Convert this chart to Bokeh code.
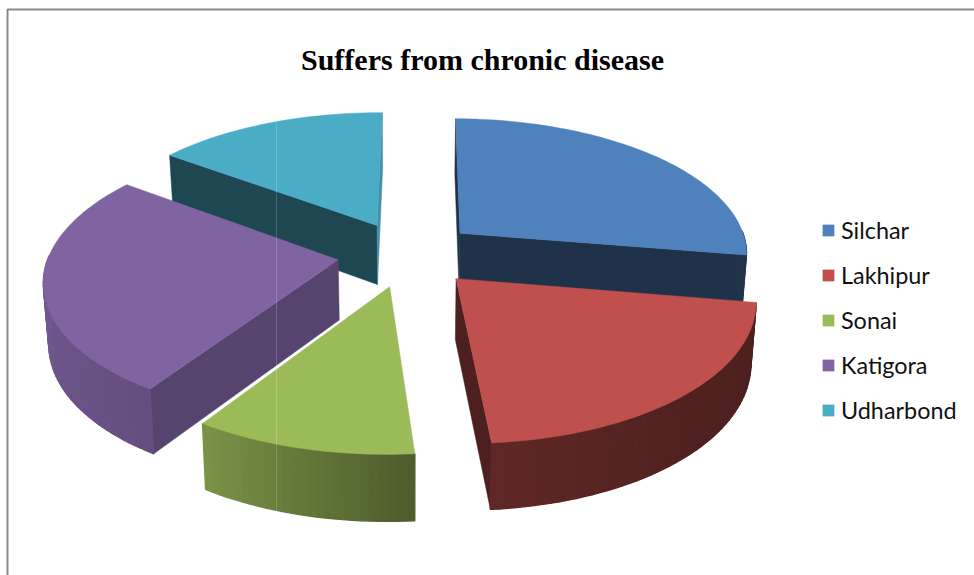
import numpy as np
from bokeh.core.properties import value
from bokeh.embed import file_html
from bokeh.models import Legend, LegendItem
from bokeh.plotting import figure
from bokeh.resources import INLINE

# Survey shares per block, in percent
blocks = ["Silchar", "Lakhipur", "Sonai", "Katigora", "Udharbond"]
shares = [27.5, 21.1, 10.5, 25.9, 15.0]
face_colors = ["#4F81BD", "#C0504D", "#9BBB59", "#8064A2", "#4BACC6"]
chart_title = "Suffers from chronic disease"

# Shading of the cut faces at the start and end of each wedge (None: faces away)
cut_shade_start = [0.39, None, None, 0.68, 0.41]
cut_shade_end = [0.39, 0.40, None, None, 0.85]
# Shading of the curved rim by heading round the pie
rim_heading = [0, 100, 140, 176, 212, 260, 308, 360]
rim_shade = [0.40, 0.40, 0.42, 0.50, 0.78, 0.88, 0.90, 0.90]

# Projection of the tilted pie onto the page
CX, CY = 407.0, 253.5
RADIUS = 289.0
EXPLODE = 70.0
TILT = 0.468
PERSPECTIVE = 0.135 / RADIUS
DEPTH = 60.0
BOTTOM_X = 0.985
START = 0.4


def project(px, pz, bottom=False):
    s = 1.0 / (1.0 + PERSPECTIVE * pz)
    if bottom:
        return CX + px * s * BOTTOM_X, CY - TILT * pz * s + DEPTH * s ** 0.6
    return CX + px * s, CY - TILT * pz * s


def hex_scaled(color, factor):
    rgb = [int(color[i:i + 2], 16) for i in (1, 3, 5)]
    return "#%02x%02x%02x" % tuple(int(round(c * factor)) for c in rgb)


def wedge_points(a0, a1, mid, n):
    """Plane coordinates of the rim of a wedge and of its displaced apex."""
    t = np.radians(np.linspace(a0, a1, n))
    ox, oz = EXPLODE * np.sin(np.radians(mid)), EXPLODE * np.cos(np.radians(mid))
    return RADIUS * np.sin(t) + ox, RADIUS * np.cos(t) + oz, ox, oz


p = figure(width=974, height=575, x_range=(0, 974), y_range=(575, 0),
           output_backend="svg", toolbar_location=None, min_border=0,
           background_fill_color="white", border_fill_color="white",
           outline_line_color=None)
p.axis.visible = False
p.grid.visible = False

# Chart frame: its right and bottom edges fall off the page
p.line([7, 7, 974], [575, 9, 9], line_color="#8a8a8a", line_width=2)

edges = START + np.concatenate([[0], np.cumsum(shares)]) / sum(shares) * 360.0
draw_order = [4, 0, 3, 1, 2]
tops = {}
for i in draw_order:
    a0, a1 = edges[i], edges[i + 1]
    mid = (a0 + a1) / 2
    n = max(int((a1 - a0) / 1.5), 3) + 1
    rx, rz, ox, oz = wedge_points(a0, a1, mid, n)
    color = face_colors[i]

    # Flat cut faces
    for j, shade in ((0, cut_shade_start[i]), (-1, cut_shade_end[i])):
        if shade is None:
            continue
        xt0, yt0 = project(ox, oz)
        xt1, yt1 = project(rx[j], rz[j])
        xb1, yb1 = project(rx[j], rz[j], True)
        xb0, yb0 = project(ox, oz, True)
        c = hex_scaled(color, shade)
        p.patch([xt0, xt1, xb1, xb0], [yt0, yt1, yb1, yb0], fill_color=c, line_color=c, line_width=0.5)

    # Curved rim, one narrow band per step so the shading can vary; the part
    # of the rim on the far side of the pie is out of sight and left out
    heads = np.linspace(a0, a1, n)
    xs, ys, cs = [], [], []
    for k in range(n - 1):
        head = (heads[k] + heads[k + 1]) / 2
        if np.cos(np.radians(head)) > 0.03:
            continue
        xa, ya = project(rx[k], rz[k])
        xc, yc = project(rx[k + 1], rz[k + 1])
        xd, yd = project(rx[k + 1], rz[k + 1], True)
        xe, ye = project(rx[k], rz[k], True)
        xs.append([xa, xc, xd, xe])
        ys.append([ya, yc, yd, ye])
        cs.append(hex_scaled(color, float(np.interp(head, rim_heading, rim_shade))))
    if xs:
        p.patches(xs, ys, fill_color=cs, line_color=cs, line_width=1.4)

    # Upper face
    xa, ya = project(ox, oz)
    xr, yr = project(rx, rz)
    tops[i] = p.patch([xa, *xr], [ya, *yr], fill_color=color, line_color=color, line_width=0.5)

# Faint vertical hairline crossing the pie
p.line([276, 276], [121, 510], line_color="white", line_alpha=0.18, line_width=1)

p.text([482], [59], text=[chart_title], text_font=value("Liberation Serif"), text_font_style="bold",
       text_font_size="30px", text_align="center", text_baseline="middle", text_color="#000000")

legend = Legend(
    items=[LegendItem(label=b, renderers=[tops[i]]) for i, b in enumerate(blocks)],
    location=(821, 575 - 224 - 200),
    orientation="vertical",
    border_line_color=None, background_fill_alpha=0,
    glyph_width=14, glyph_height=14, label_standoff=6,
    label_text_font="Lato", label_text_font_size="23.4px", label_text_color="#111111",
    label_height=14, spacing=17, padding=0, margin=0,
)
p.add_layout(legend, "center")

open("out.html", "w").write(file_html(p, INLINE))
